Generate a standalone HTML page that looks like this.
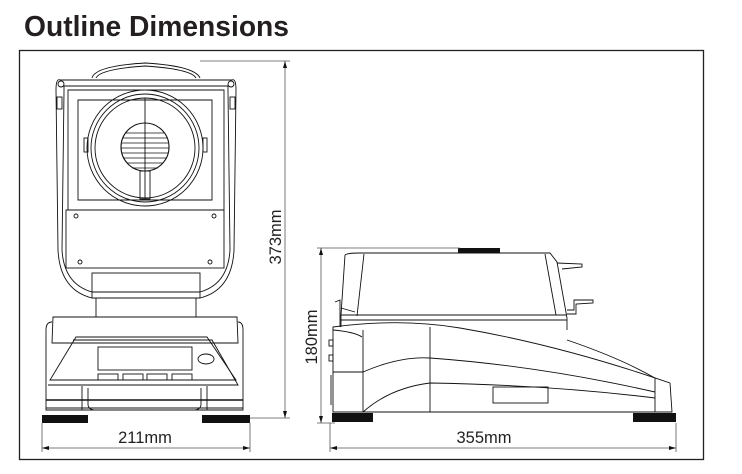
<!DOCTYPE html>
<html><head><meta charset="utf-8"><style>
html,body{margin:0;padding:0;background:#fff;width:742px;height:474px;overflow:hidden}
svg{display:block}
text{font-family:"Liberation Sans",sans-serif}
</style></head><body>
<svg width="742" height="474" viewBox="0 0 742 474" xmlns="http://www.w3.org/2000/svg">
<text x="24" y="36" font-size="29" font-weight="bold" fill="#231f20" textLength="265" lengthAdjust="spacingAndGlyphs">Outline Dimensions</text>
<rect x="19.5" y="50.5" width="684" height="409" fill="none" stroke="#231f20" stroke-width="1.3"/>

<g fill="none" stroke="#111" stroke-width="0.9">
<!-- FRONT VIEW -->
<path d="M92,78 Q95,66 145,63 Q195,66 200,78"/>
<path d="M96,78 Q100,69 145,66 Q191,69 196,78"/>
<path d="M60,80 Q56,78 56,90 L58,250 Q60,290 92,298 L200,298 Q232,290 234,250 L236,90 Q236,78 232,80 Z"/>
<path d="M64,86 L228,86 L228,92 L230,250 Q228,284 200,292 L92,292 Q64,284 62,250 L64,92 Z"/>
<circle cx="61" cy="84" r="3"/><circle cx="231" cy="84" r="3"/>
<rect x="57" y="97" width="5" height="12"/><rect x="230" y="97" width="5" height="12"/>
<path d="M68,90 L224,90 L224,210 L68,210 Z"/>
<path d="M78,100 L212,100 L212,200 L78,200 Z"/>
<rect x="84" y="138" width="4" height="14"/><rect x="203" y="138" width="4" height="14"/>
<circle cx="145" cy="148" r="58"/>
<circle cx="145" cy="148" r="54"/>
<circle cx="145" cy="148" r="50"/>
<line x1="145" y1="98" x2="145" y2="198"/>
<circle cx="145" cy="147" r="24" stroke-width="1.1"/>
<g stroke-width="0.7">
<line x1="126" y1="133" x2="164" y2="133"/><line x1="123" y1="138" x2="167" y2="138"/>
<line x1="122" y1="143" x2="168" y2="143"/><line x1="121" y1="148" x2="169" y2="148"/>
<line x1="122" y1="153" x2="168" y2="153"/><line x1="123" y1="158" x2="167" y2="158"/>
<line x1="127" y1="163" x2="163" y2="163"/><line x1="132" y1="168" x2="158" y2="168"/>
</g>
<rect x="140" y="171" width="10" height="28"/>
<rect x="66" y="210" width="158" height="58"/>
<circle cx="76" cy="216" r="2"/><circle cx="214" cy="216" r="2"/>
<circle cx="80" cy="262" r="2"/><circle cx="210" cy="262" r="2"/>
<rect x="92" y="273" width="108" height="25"/>
<line x1="96" y1="298" x2="96" y2="317"/><line x1="196" y1="298" x2="196" y2="317"/>
<path d="M53,317 L237,317 L238,343 L52,343 Z"/>
<path d="M46,330 Q46,322 52,322 M243,330 Q243,322 238,322"/>
<path d="M46,330 L46,410 L243,410 L243,330"/>
<path d="M76,337 L207,337 L236,380 L50,380 Z"/>
<path d="M73,340 L212,340 L238,385 L48,385"/>
<rect x="98" y="347" width="94" height="23"/>
<ellipse cx="206" cy="359" rx="8" ry="5"/>
<rect x="98" y="374" width="20" height="6"/><rect x="123" y="374" width="20" height="6"/>
<rect x="147" y="374" width="20" height="6"/><rect x="172" y="374" width="20" height="6"/>
<line x1="46" y1="400" x2="243" y2="400" stroke-width="1.4"/>
<line x1="46" y1="408" x2="243" y2="408"/>
<line x1="82" y1="386" x2="82" y2="410"/><line x1="207" y1="386" x2="207" y2="410"/>
<path d="M88,388 L88,404 Q88,410 96,410 M201,388 L201,404 Q201,410 193,410"/>
</g>
<rect x="42" y="415" width="46" height="8" fill="#111"/>
<rect x="202" y="415" width="48" height="8" fill="#111"/>

<g stroke="#555" stroke-width="0.8" fill="none">
<line x1="200" y1="61" x2="290" y2="61"/>
<line x1="250" y1="418" x2="290" y2="418"/>
<line x1="285" y1="61" x2="285" y2="418"/>
<line x1="42" y1="423" x2="42" y2="452"/>
<line x1="250" y1="423" x2="250" y2="452"/>
<line x1="42" y1="448" x2="250" y2="448"/>
</g>
<g fill="#111">
<path d="M285,61 l-2,7 l4,0 z"/><path d="M285,418 l-2,-7 l4,0 z"/>
<path d="M42,448 l7,-2 l0,4 z"/><path d="M250,448 l-7,-2 l0,4 z"/>
</g>
<text x="145" y="443" font-size="16.5" text-anchor="middle" fill="#222">211mm</text>
<text transform="translate(281,237) rotate(-90)" font-size="16.5" text-anchor="middle" fill="#222">373mm</text>

<!-- SIDE VIEW -->
<g fill="none" stroke="#111" stroke-width="0.9">
<path d="M345,255 Q347,253 360,253 L550,253 L557,262 L567,318 L567,330"/>
<path d="M345,255 L341,315 L341,327"/>
<line x1="364" y1="254" x2="357" y2="316"/>
<line x1="545" y1="254" x2="556" y2="315"/>
<line x1="341" y1="315" x2="567" y2="315"/>
<line x1="341" y1="320" x2="567" y2="320"/>
<path d="M341,308 L355,312"/>
<path d="M335,302 L340,300 L340,327"/>
<rect x="458" y="248" width="42" height="5" fill="#111" stroke="none"/>
<path d="M557,263 L582,264 L582,267 L562,269"/>
<path d="M567,310 L574,310 L574,300 L593,300 L593,303 L576,304 L576,314 L567,314"/>
<path d="M333,327 Q400,318 460,328 Q560,345 670,383 L672,412 L333,412 Z"/>
<path d="M333,330 Q355,332 362,337"/>
<line x1="363" y1="330" x2="363" y2="412"/>
<line x1="430" y1="327" x2="430" y2="412"/>
<path d="M567,340 Q620,358 655,378"/>
<path d="M333,372 L363,372 Q400,356 430,358 Q540,366 655,392"/>
<path d="M363,412 Q390,388 430,383 Q550,385 655,398"/>
<line x1="655" y1="378" x2="655" y2="412"/>
<rect x="493" y="387" width="55" height="16"/>
<rect x="329" y="340" width="4" height="6"/><rect x="329" y="355" width="4" height="6"/>
<line x1="331" y1="375" x2="331" y2="405"/>
</g>
<rect x="332" y="413" width="41" height="9" fill="#111"/>
<rect x="633" y="413" width="43" height="9" fill="#111"/>

<g stroke="#555" stroke-width="0.8" fill="none">
<line x1="317" y1="248" x2="460" y2="248"/>
<line x1="317" y1="423" x2="335" y2="423"/>
<line x1="321" y1="248" x2="321" y2="423"/>
<line x1="330" y1="423" x2="330" y2="452"/>
<line x1="676" y1="423" x2="676" y2="452"/>
<line x1="330" y1="448" x2="676" y2="448"/>
</g>
<g fill="#111">
<path d="M321,248 l-2,7 l4,0 z"/><path d="M321,423 l-2,-7 l4,0 z"/>
<path d="M330,448 l7,-2 l0,4 z"/><path d="M676,448 l-7,-2 l0,4 z"/>
</g>
<text x="484" y="443" font-size="16.5" text-anchor="middle" fill="#222">355mm</text>
<text transform="translate(317,337) rotate(-90)" font-size="16.5" text-anchor="middle" fill="#222">180mm</text>
</svg>
</body></html>
